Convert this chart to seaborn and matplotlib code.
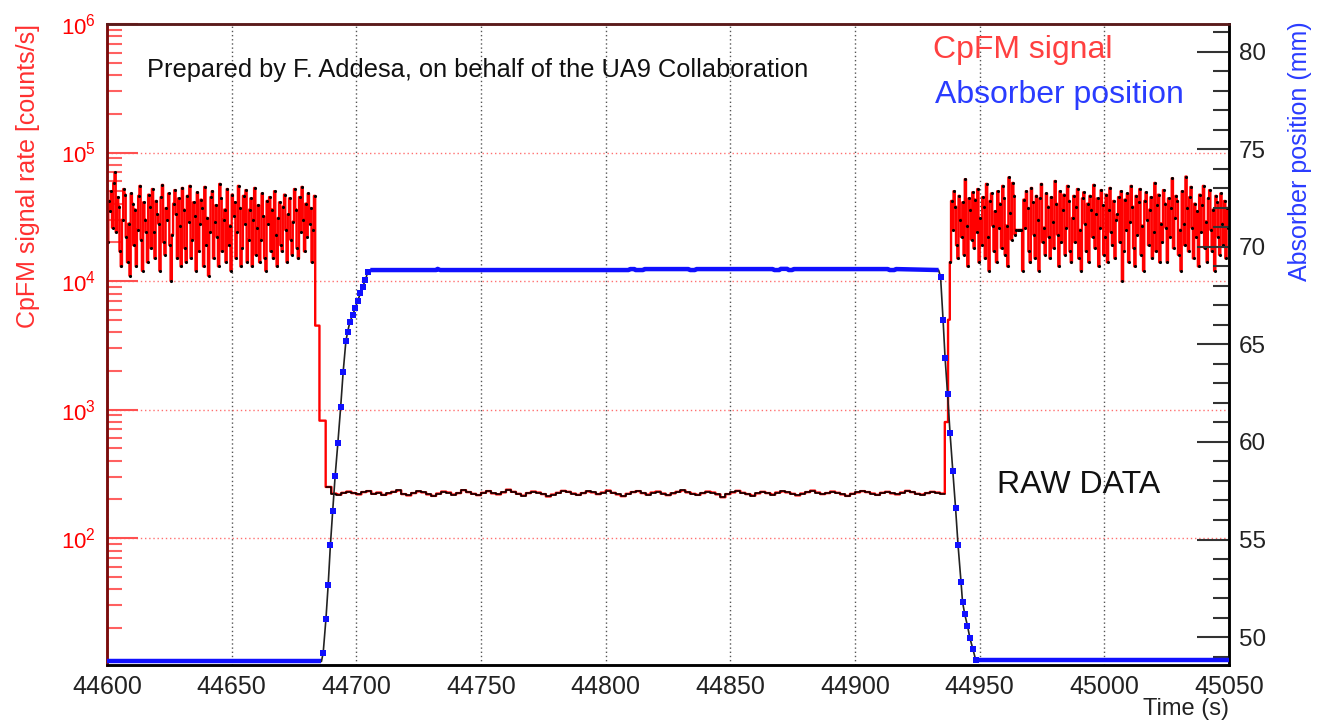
import numpy as np
import pandas as pd
import matplotlib
matplotlib.use("Agg")
import matplotlib.pyplot as plt
import seaborn as sns
from matplotlib.ticker import MultipleLocator, LogLocator, NullFormatter

# ---------------- data ----------------
# CpFM signal rate, noisy part before insertion (kcounts/s, 0.5 s bins from 44600 s)
noise_left_start = 44600.0
noise_bin = 0.5
noise_left_k = [
    20, 42, 35, 50, 26, 58, 70, 24, 45, 38, 17, 13, 30, 52, 47, 22, 14, 28, 11, 48,
    40, 19, 36, 13, 25, 46, 55, 21, 12, 41, 30, 24, 14, 47, 38, 18, 52, 24, 15, 42,
    33, 28, 12, 45, 56, 20, 16, 37, 30, 48, 19, 10, 23, 40, 51, 33, 15, 44, 27, 13,
    53, 36, 18, 14, 46, 29, 55, 15, 21, 41, 32, 12, 49, 17, 28, 43, 37, 13, 54, 19,
    31, 11, 24, 45, 50, 15, 29, 39, 22, 13, 57, 44, 17, 30, 36, 14, 52, 19, 27, 12,
    47, 32, 41, 15, 24, 55, 37, 13, 18, 46, 28, 51, 14, 21, 36, 44, 13, 30, 53, 16,
    26, 39, 14, 21, 48, 32, 15, 12, 42, 28, 45, 17, 36, 15, 50, 23, 13, 31, 41, 19,
    17, 38, 47, 25, 14, 33, 44, 21, 16, 29, 52, 36, 18, 15, 45, 24, 54, 30, 17, 40,
    22, 48, 28, 37, 14, 25, 46,
]
# drop while the absorber moves in
transition_in_time = [44683.5, 44685.2, 44687.7]
transition_in_rate = [4500, 820, 250]
# low plateau (counts/s, 2 s bins from 44690 s)
plateau_start = 44690.0
plateau_bin = 2.0
plateau_rate = [
    222, 218, 225, 230, 224, 219, 228, 232, 221, 226, 217, 223, 229, 235, 220, 215, 224, 231, 227, 219,
    213, 222, 230, 226, 218, 224, 236, 228, 221, 216, 225, 232, 223, 219, 227, 238, 229, 221, 214, 224,
    230, 226, 220, 211, 218, 225, 233, 229, 222, 217, 224, 231, 227, 220, 226, 234, 225, 219, 212, 221,
    228, 232, 224, 218, 226, 230, 222, 216, 223, 229, 235, 227, 221, 217, 224, 230, 226, 219, 208, 220,
    227, 233, 225, 220, 214, 223, 229, 224, 218, 226, 231, 227, 221, 215, 222, 228, 234, 226, 220, 224,
    230, 225, 219, 213, 221, 227, 232, 228, 222, 217, 225, 229, 223, 219, 226, 233, 228, 221, 218, 224,
    229, 226, 222,
]
# rise while the absorber moves out
transition_out_time = [44936.0, 44937.3]
transition_out_rate = [800, 5000]
# noisy part after extraction (kcounts/s, 0.5 s bins from 44938 s)
noise_right_start = 44938.0
noise_right_k = [
    14, 42, 25, 50, 38, 19, 15, 46, 30, 22, 41, 16, 62, 27, 13, 44, 36, 21, 49, 18,
    43, 24, 52, 14, 31, 19, 45, 38, 15, 57, 22, 12, 42, 48, 27, 17, 35, 14, 50, 26,
    40, 18, 55, 44, 16, 27, 13, 64, 34, 21, 58, 46, 23, 25, 25, 25, 25, 25, 12, 43,
    26, 50, 37, 17, 14, 53, 41, 23, 15, 46, 30, 12, 44, 57, 20, 26, 16, 48, 38, 22,
    15, 45, 29, 18, 60, 40, 23, 13, 50, 20, 36, 47, 16, 26, 55, 42, 17, 14, 31, 46,
    20, 38, 52, 15, 25, 12, 44, 49, 28, 17, 40, 14, 46, 36, 22, 56, 18, 33, 44, 13,
    26, 51, 39, 16, 22, 47, 14, 36, 53, 24, 19, 42, 15, 30, 33, 45, 20, 50, 10, 17,
    43, 25, 48, 14, 29, 55, 38, 18, 13, 46, 23, 41, 52, 16, 27, 12, 42, 49, 30, 19,
    36, 45, 15, 24, 58, 17, 39, 47, 14, 28, 20, 51, 40, 26, 14, 44, 22, 37, 63, 18,
    31, 46, 42, 16, 25, 12, 50, 28, 19, 65, 37, 17, 45, 54, 26, 15, 40, 22, 35, 13,
    47, 24, 39, 55, 18, 29, 14, 44, 51, 25, 17, 36, 12, 46, 41, 22, 16, 48, 28, 19,
    42, 15, 37, 26,
]
time_end = 45050.0

# Absorber position (mm)
park_left_time = [44600.0]
park_left_pos = [48.75]
ramp_in_time = [44686.0, 44686.7, 44687.8, 44688.7, 44689.6, 44690.5, 44691.5, 44692.6,
                44693.7, 44694.7, 44695.8, 44696.5, 44697.4, 44698.5, 44699.6, 44700.5,
                44701.6, 44702.5, 44703.6, 44704.6, 44705.6]
ramp_in_pos = [48.75, 49.19, 50.92, 52.67, 54.73, 56.44, 58.26, 59.97,
               61.77, 63.57, 65.16, 65.64, 66.15, 66.50, 66.87, 67.22,
               67.61, 67.95, 68.29, 68.72, 68.81]
plateau_abs_time = [44732.0, 44732.6, 44733.6, 44809.2, 44809.8, 44811.5, 44812.0, 44815.0,
                    44815.6, 44833.2, 44833.8, 44835.8, 44836.4, 44867.0, 44867.6, 44869.6,
                    44870.2, 44872.8, 44873.4, 44874.8, 44875.4, 44913.2, 44913.8, 44915.8, 44916.4]
plateau_abs_pos = [68.81, 68.87, 68.81, 68.81, 68.86, 68.86, 68.81, 68.81,
                   68.86, 68.86, 68.81, 68.81, 68.86, 68.86, 68.81, 68.81,
                   68.87, 68.87, 68.81, 68.81, 68.86, 68.86, 68.81, 68.81, 68.86]
ramp_out_time = [44933.5, 44934.3, 44935.3, 44936.1, 44937.1, 44938.1, 44939.2, 44940.3,
                 44941.3, 44942.5, 44943.1, 44944.0, 44945.1, 44946.1, 44947.3, 44948.4]
ramp_out_pos = [68.81, 68.46, 66.27, 64.32, 62.47, 60.45, 58.53, 56.64,
                54.73, 52.83, 51.81, 51.17, 50.57, 49.93, 49.37, 48.82]
park_right_time = [45050.0]
park_right_pos = [48.82]

# ---------------- assemble series ----------------
t_left = noise_left_start + noise_bin * np.arange(len(noise_left_k))
r_left = np.array(noise_left_k, float) * 1000.0
t_plat = plateau_start + plateau_bin * np.arange(len(plateau_rate))
t_right = noise_right_start + noise_bin * np.arange(len(noise_right_k))
r_right = np.array(noise_right_k, float) * 1000.0

sig = pd.DataFrame({
    "time": np.concatenate([t_left, transition_in_time, t_plat, transition_out_time, t_right, [time_end]]),
    "rate": np.concatenate([r_left, transition_in_rate, plateau_rate, transition_out_rate, r_right, [r_right[-1]]]),
})
quiet = pd.DataFrame({
    "time": np.concatenate([transition_in_time[-1:], t_plat, transition_out_time[:1]]),
    "rate": np.concatenate([transition_in_rate[-1:], plateau_rate, [plateau_rate[-1]]]),
})
dots = pd.DataFrame({
    "time": np.concatenate([t_left, t_right]) + noise_bin / 2,
    "rate": np.concatenate([r_left, r_right]),
})

absorber = pd.DataFrame({
    "time": np.concatenate([park_left_time, ramp_in_time, plateau_abs_time, ramp_out_time, park_right_time]),
    "pos": np.concatenate([park_left_pos, ramp_in_pos, plateau_abs_pos, ramp_out_pos, park_right_pos]),
})
flat_left = pd.DataFrame({"time": park_left_time + ramp_in_time[:1], "pos": park_left_pos + ramp_in_pos[:1]})
flat_top = pd.DataFrame({"time": ramp_in_time[-1:] + plateau_abs_time + ramp_out_time[:1],
                         "pos": ramp_in_pos[-1:] + plateau_abs_pos + ramp_out_pos[:1]})
flat_right = pd.DataFrame({"time": ramp_out_time[-1:] + park_right_time, "pos": ramp_out_pos[-1:] + park_right_pos})
ramps = pd.DataFrame({"time": ramp_in_time[1:-1] + ramp_out_time[1:],
                      "pos": ramp_in_pos[1:-1] + ramp_out_pos[1:]})

# ---------------- style ----------------
sns.set_theme(style="white")
plt.rcParams["font.family"] = ["Liberation Sans", "DejaVu Sans"]
plt.rcParams["mathtext.fontset"] = "custom"
plt.rcParams["mathtext.rm"] = "Liberation Sans"
plt.rcParams["mathtext.it"] = "Liberation Sans:italic"
plt.rcParams["mathtext.bf"] = "Liberation Sans:bold"

RED = "#ff0000"
LBL_RED = "#ff3030"
BLUE = "#1010ff"
LBL_BLUE = "#2a3cff"

fig = plt.figure(figsize=(13.21, 7.25), dpi=100)
ax = fig.add_axes([0.0810, 0.0828, 0.8494, 0.8841])
ax2 = ax.twinx()

# grid
ax.set_yscale("log")
ax.set_xlim(44600, 45050)
ax.set_ylim(10.3, 1e6)
ax.xaxis.set_major_locator(MultipleLocator(50))
ax.xaxis.set_minor_locator(MultipleLocator(10))
ax.yaxis.set_major_locator(LogLocator(base=10, numticks=10))
ax.yaxis.set_minor_locator(LogLocator(base=10, subs=np.arange(2, 10), numticks=20))
ax.yaxis.set_minor_formatter(NullFormatter())
ax.grid(False)
ax.grid(True, axis="x", which="major", color="#555555", linestyle=(0, (1, 2)), linewidth=1.0)
ax.grid(True, axis="y", which="major", color="#ff7070", linestyle=(0, (1, 2)), linewidth=1.0)

# signal
sns.lineplot(data=sig, x="time", y="rate", ax=ax, drawstyle="steps-post", color=RED,
             linewidth=1.7, estimator=None, sort=False, legend=False, zorder=3)
sns.lineplot(data=quiet, x="time", y="rate", ax=ax, drawstyle="steps-post", color="black",
             linewidth=1.1, estimator=None, sort=False, legend=False, zorder=4)
sns.scatterplot(data=dots, x="time", y="rate", ax=ax, color="black", s=5, linewidth=0,
                legend=False, zorder=5)

# absorber
ax2.set_ylim(48.57, 81.42)
sns.lineplot(data=absorber, x="time", y="pos", ax=ax2, color="#222222", linewidth=1.2,
             estimator=None, sort=False, legend=False, zorder=3)
for seg in (flat_left, flat_top, flat_right):
    sns.lineplot(data=seg, x="time", y="pos", ax=ax2, color=BLUE, linewidth=3.2,
                 estimator=None, sort=False, legend=False, zorder=4,
                 solid_capstyle="butt")
sns.scatterplot(data=ramps, x="time", y="pos", ax=ax2, color=BLUE, marker="s", s=16,
                linewidth=0, legend=False, zorder=5)
ax2.grid(False)
ax2.yaxis.set_major_locator(MultipleLocator(5))
ax2.yaxis.set_minor_locator(MultipleLocator(1))

# ticks
ax.tick_params(axis="x", which="major", direction="in", length=14, width=1.5, color="black",
               labelsize=18, pad=7, labelcolor="#222222", top=False)
ax.tick_params(axis="x", which="minor", direction="in", length=7, width=1.5, color="black", top=False)
ax.tick_params(axis="y", which="major", direction="in", length=22, width=1.5, color="#ff5050",
               labelsize=16, pad=8, labelcolor=RED, right=False)
ax.tick_params(axis="y", which="minor", direction="in", length=11, width=1.5, color="#ff6060", right=False)
ax2.tick_params(axis="y", which="major", direction="in", length=23, width=1.5, color="#333333",
                labelsize=17.5, pad=7, labelcolor="#222222")
ax2.tick_params(axis="y", which="minor", direction="in", length=11.5, width=1.5, color="#333333")

for a in (ax, ax2):
    a.spines["left"].set_color("#7a0c0c")
    a.spines["top"].set_color("#5a1a1a")
    a.spines["right"].set_color("black")
    a.spines["bottom"].set_color("black")
    for s in a.spines.values():
        s.set_linewidth(1.8)
        s.set_visible(True)

# labels
ax.set_xlabel("Time (s)", fontsize=17, color="#222222", loc="right")
ax.xaxis.set_label_coords(1.0, -0.052)
ax.set_ylabel("CpFM signal rate [counts/s]", fontsize=18, color=LBL_RED, loc="top")
ax.yaxis.set_label_coords(-0.060, 1.0)
ax2.set_ylabel("Absorber position (mm)", fontsize=18, color=LBL_BLUE, loc="top")
ax2.yaxis.set_label_coords(1.0526, 1.004)

fig.text(147 / 1321, 1 - 70 / 725, "Prepared by F. Addesa, on behalf of the UA9 Collaboration",
         fontsize=18.3, color="#111111", ha="left", va="center")
fig.text(933 / 1321, 1 - 50 / 725, "CpFM signal", fontsize=23, color="#ff4040",
         ha="left", va="center")
fig.text(935 / 1321, 1 - 95 / 725, "Absorber position", fontsize=23, color=LBL_BLUE,
         ha="left", va="center")
fig.text(997 / 1321, 1 - 485 / 725, "RAW DATA", fontsize=23, color="#111111",
         ha="left", va="center")

fig.savefig("out.png", dpi=100)
